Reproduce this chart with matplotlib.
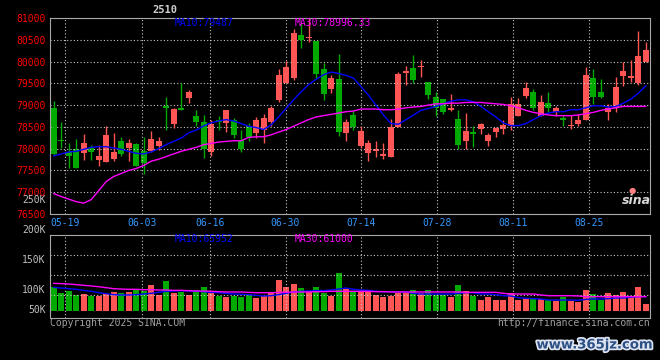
import matplotlib
matplotlib.use("Agg")
import matplotlib.pyplot as plt
import matplotlib.transforms as mtransforms
import matplotlib.patheffects as pe

# daily candles, 80 sessions (price)
opens = [78924, 78200, 77924, 78000, 77909, 78015, 77742, 77697, 77758, 78182,
         78015, 78106, 77939, 77939, 78061, 78985, 78576, 78939, 79152, 78758,
         78606, 77924, 78667, 78591, 78667, 78197, 78515, 78364, 78439, 78621,
         79106, 79500, 79621, 80621, 80545, 80470, 79833, 79379, 79591, 78364,
         78773, 78061, 77894, 77955, 77833, 77818, 78492, 79742, 79848, 79879,
         79530, 79182, 79136, 78894, 78682, 78182, 78394, 78455, 78167, 78379,
         78455, 78515, 78758, 79212, 79303, 78758, 79045, 78848, 78712, 78515,
         78576, 78667, 79621, 79303, 78833, 78924, 79667, 79621, 79500, 80000]
highs = [79091, 78621, 78121, 78212, 78348, 78091, 78076, 78515, 78364, 78258,
         78212, 78121, 78258, 78409, 78273, 79182, 78939, 79500, 79348, 78894,
         78773, 78652, 78758, 78879, 78712, 78439, 78591, 78727, 78788, 78970,
         79833, 80015, 80758, 80879, 80990, 80470, 79970, 79682, 80167, 78682,
         78879, 78530, 78197, 78167, 78121, 78682, 79758, 79894, 80152, 80030,
         79530, 79303, 79136, 79258, 78879, 78818, 78530, 78591, 78364, 78500,
         78652, 79197, 79152, 79530, 79379, 79242, 79303, 78985, 78773, 78773,
         78788, 79864, 79833, 79591, 79030, 79636, 80000, 80030, 80697, 80439]
lows = [77860, 78015, 77561, 77561, 77742, 77742, 77606, 77697, 77712, 77833,
        77727, 77606, 77409, 77925, 77970, 78424, 78485, 78879, 79045, 78515,
        77788, 77833, 78424, 78379, 78242, 77924, 78182, 78242, 78136, 78530,
        79061, 79500, 79576, 80303, 80455, 79606, 79121, 79273, 78288, 78182,
        78424, 78015, 77727, 77818, 77758, 77818, 78492, 79455, 79515, 79652,
        79136, 78742, 78788, 78864, 77985, 77985, 78030, 78333, 78061, 78258,
        78333, 78424, 78758, 79167, 78894, 78758, 78848, 78758, 78515, 78455,
        78515, 78667, 79030, 79152, 78652, 78833, 79439, 79530, 79470, 80000]
closes = [77879, 78182, 77833, 77561, 78121, 77924, 77833, 78303, 77924, 77879,
          78136, 77606, 77682, 78227, 78182, 78924, 78909, 78879, 79303, 78606,
          77985, 78576, 78621, 78879, 78303, 77985, 78273, 78667, 78697, 78939,
          79682, 79864, 80652, 80500, 80560, 79712, 79258, 79621, 78394, 78621,
          78500, 78409, 78121, 78000, 77879, 78500, 79712, 79773, 79576, 79894,
          79242, 78939, 78833, 78939, 78076, 78409, 78333, 78561, 78303, 78485,
          78545, 79030, 79030, 79394, 78939, 79076, 78939, 78924, 78652, 78545,
          78667, 79697, 79197, 79197, 78939, 79409, 79788, 79667, 80121, 80258]
ma10 = [77833, 77879, 77924, 77939, 77985, 78030, 78045, 78045, 78015, 77985,
        77939, 77894, 77879, 77924, 78000, 78091, 78167, 78242, 78364, 78424,
        78523, 78591, 78636, 78667, 78636, 78576, 78515, 78485, 78439, 78545,
        78727, 78924, 79121, 79303, 79470, 79591, 79697, 79758, 79727, 79682,
        79621, 79424, 79227, 79000, 78773, 78576, 78561, 78667, 78773, 78879,
        78924, 78970, 79030, 79091, 79121, 79121, 79076, 78970, 78848, 78727,
        78591, 78530, 78530, 78576, 78667, 78758, 78818, 78848, 78848, 78894,
        78894, 78939, 78985, 78985, 78955, 78970, 79045, 79136, 79273, 79439]
ma30 = [76968, 76899, 76841, 76783, 76749, 76830, 77037, 77245, 77360, 77430,
        77500, 77545, 77614, 77712, 77758, 77818, 77879, 77939, 77985, 78030,
        78091, 78121, 78152, 78167, 78182, 78182, 78258, 78273, 78273, 78318,
        78379, 78439, 78515, 78591, 78667, 78727, 78758, 78788, 78818, 78848,
        78864, 78909, 78909, 78909, 78894, 78894, 78909, 78939, 78955, 78970,
        79000, 79030, 79030, 79045, 79045, 79061, 79061, 79061, 79045, 79030,
        79015, 78985, 78939, 78879, 78833, 78803, 78773, 78758, 78758, 78758,
        78773, 78803, 78833, 78879, 78909, 78939, 78970, 78970, 78970, 78970]
volume = [106000, 96000, 98800, 92200, 93800, 90500, 90500, 93800, 97700, 95500,
          97700, 101600, 98800, 108800, 92200, 115500, 95500, 97700, 92200, 100500,
          105500, 95500, 90500, 88800, 90500, 89400, 92200, 87700, 90500, 97200,
          117200, 105500, 110500, 103800, 97700, 105500, 95500, 91000, 129400, 102700,
          98800, 98800, 97700, 92200, 89400, 91000, 96000, 96000, 100500, 94900,
          100500, 92700, 92700, 89400, 108800, 98800, 91000, 83800, 89400, 83800,
          83800, 94900, 83800, 87700, 85500, 84900, 83800, 82700, 88300, 82700,
          81000, 100500, 93800, 83800, 96000, 92200, 97700, 88300, 106000, 77100]
vol_ma10 = [104900, 103800, 102700, 101600, 99900, 98300, 96000, 94400, 92700, 92200,
            92200, 92700, 93800, 94900, 96600, 98300, 98800, 99400, 98800, 98300,
            97700, 96600, 96000, 94900, 93800, 93300, 92700, 91600, 90500, 91000,
            92700, 94900, 97200, 98300, 98800, 99400, 99400, 100500, 102100, 103800,
            101600, 100500, 99900, 98300, 97700, 97700, 97200, 97200, 94900, 93800,
            93800, 93800, 93800, 93800, 94900, 96000, 96000, 93800, 93800, 92700,
            91000, 90500, 87700, 86600, 86000, 85500, 83800, 83800, 83800, 83800,
            83300, 84900, 85500, 85500, 86000, 87200, 87200, 88300, 89400, 89400]
vol_ma30 = [111600, 111100, 110500, 109400, 108300, 107200, 106000, 104400, 102700, 102100,
            101600, 101600, 101000, 101000, 100500, 100500, 99900, 99900, 99400, 98800,
            98800, 98300, 97700, 97200, 97200, 97200, 96600, 96000, 96000, 96000,
            96600, 96600, 97200, 97200, 97200, 97700, 97700, 98300, 98300, 98300,
            98300, 98300, 98300, 97700, 97700, 97200, 97200, 97200, 97200, 97200,
            97200, 97200, 97200, 97200, 97200, 96600, 96600, 96600, 96600, 96600,
            94900, 93800, 93800, 93800, 93800, 92200, 91000, 91000, 91000, 91000,
            90500, 89400, 89400, 89400, 89400, 89400, 89400, 89400, 89400, 89400]

date_labels = ['05-19', '06-03', '06-16', '06-30', '07-14', '07-28', '08-11', '08-25']
date_pos = [1.54, 11.73, 20.83, 30.93, 41.06, 51.14, 61.27, 71.41]
price_ticks = [76500, 77000, 77500, 78000, 78500, 79000, 79500, 80000, 80500, 81000]
vol_label_vals = [250000, 200000, 150000, 100000, 66700]
vol_label_text = ['250K', '200K', '150K', '100K', '50K']
vol_grid = [91700, 125000, 158300]
vol_base = 66000

UP = '#ff5555'
DOWN = '#00aa00'
GRID = '#c8c8c8'
EDGE = '#a8a8a8'
MONO = 'DejaVu Sans Mono'

W, H = 660, 360
fig = plt.figure(figsize=(6.6, 3.6), dpi=100, facecolor='black')


def px(x, y):
    return x / W, 1 - y / H


ax = fig.add_axes([50 / W, 1 - 214 / H, 599.5 / W, 196 / H], facecolor='black')
axv = fig.add_axes([50 / W, 1 - 318.3 / H, 599.5 / W, 83.6 / H], facecolor='black')

n = len(closes)
xs = list(range(n))
colors = [UP if c >= o else DOWN for o, c in zip(opens, closes)]

# candles
ax.vlines(xs, lows, highs, colors=colors, linewidth=1)
body_bottom = [min(o, c) for o, c in zip(opens, closes)]
body_height = [max(abs(c - o), 22) for o, c in zip(opens, closes)]
ax.bar(xs, body_height, bottom=body_bottom, width=0.8, color=colors, linewidth=0)
ax.plot(xs, ma10, color='#0000ff', linewidth=1)
ax.plot(xs, ma30, color='#ff00ff', linewidth=1)

ax.set_xlim(-0.5, n - 0.5)
ax.set_ylim(76500, 81000)
ax.set_yticks(price_ticks)
ax.set_yticklabels([str(v) for v in price_ticks], color='#ff0000', fontsize=7, family=MONO)
ax.set_xticks(date_pos)
ax.set_xticklabels(date_labels, color='#3399ff', fontsize=7, family=MONO)
ax.tick_params(length=0, pad=3)
ax.grid(True, color=GRID, linestyle=(0, (1, 2)), linewidth=0.8)
for s in ax.spines.values():
    s.set_color(EDGE)

# volume
axv.bar(xs, [v - vol_base for v in volume], bottom=vol_base, width=0.8, color=colors, linewidth=0)
axv.plot(xs, vol_ma10, color='#0000ff', linewidth=1)
axv.plot(xs, vol_ma30, color='#ff00ff', linewidth=1)
axv.set_xlim(-0.5, n - 0.5)
axv.set_ylim(53300, 192700)
axv.set_xticks(date_pos)
axv.set_xticklabels([])
axv.set_yticks(vol_grid)
axv.set_yticklabels([])
axv.tick_params(length=0)
axv.grid(True, color=GRID, linestyle=(0, (1, 2)), linewidth=0.8)
for s in axv.spines.values():
    s.set_color(EDGE)
trans = mtransforms.blended_transform_factory(axv.transAxes, axv.transData)
for v, t in zip(vol_label_vals, vol_label_text):
    axv.text(-0.007, v, t, transform=trans, ha='right', va='center', color='#c0c0c0',
             fontsize=7, family=MONO, clip_on=False)

# texts
fig.text(*px(165, 10), '2510', ha='center', va='center', color='#d0d0d0', fontsize=7.5,
         family=MONO, fontweight='bold')
fig.text(*px(175, 23.5), 'MA10:79487', ha='left', va='center', color='#0000ff', fontsize=7, family=MONO)
fig.text(*px(295, 23.5), 'MA30:78996.33', ha='left', va='center', color='#ff00ff', fontsize=7, family=MONO)
fig.text(*px(175, 238.5), 'MA10:65952', ha='left', va='center', color='#0000ff', fontsize=7, family=MONO)
fig.text(*px(295, 238.5), 'MA30:61000', ha='left', va='center', color='#ff00ff', fontsize=7, family=MONO)
fig.text(*px(50, 323.5), 'Copyright 2025 SINA.COM', ha='left', va='center', color='#a0a0a0',
         fontsize=7, family=MONO)
fig.text(*px(649.5, 323.5), 'http://finance.sina.com.cn', ha='right', va='center', color='#a0a0a0',
         fontsize=7, family=MONO)
fig.text(*px(636, 200), 'sina', ha='center', va='center', color='#d8d8d8', fontsize=9,
         fontweight='bold', style='italic')
fig.text(*px(632, 190), '●', ha='center', va='center', color='#ff8080', fontsize=6)
fig.text(*px(595, 345), 'www.365jz.com', ha='center', va='center', color='#2c4f86', fontsize=9.5,
         fontweight='bold', path_effects=[pe.withStroke(linewidth=2.5, foreground='#dde4f0')])

fig.savefig('out.png', dpi=100, facecolor='black')
